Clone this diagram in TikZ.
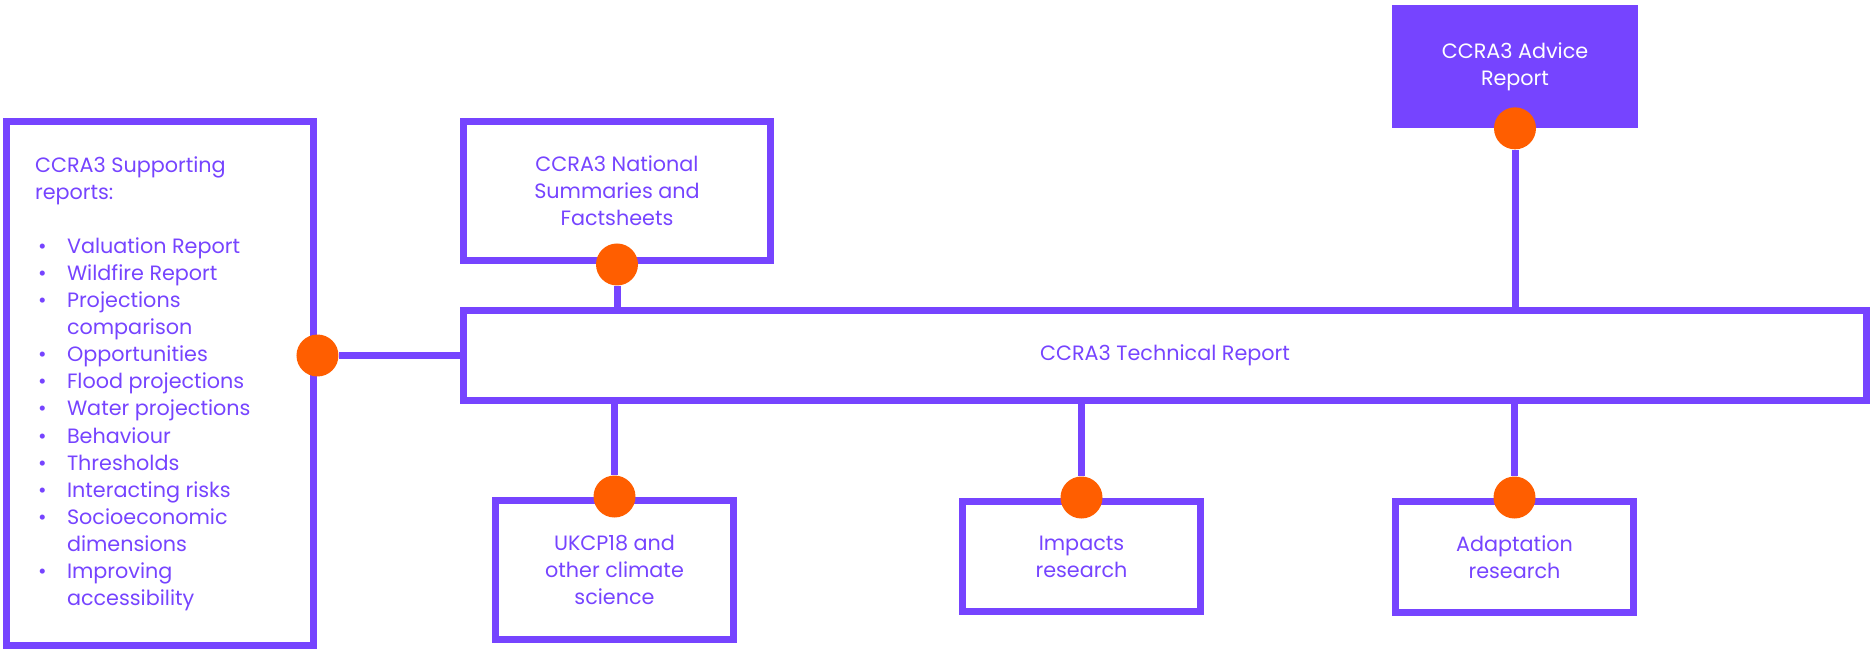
\documentclass[tikz,border=0pt]{standalone}
\usepackage{fontspec}
\setmainfont{Poppins}
\usepackage{array}
\definecolor{ccpurple}{RGB}{118,68,255}
\definecolor{ccorange}{RGB}{255,94,0}
\newcommand{\bul}{\hspace*{0.06cm}\textbullet}
\tikzset{
  box/.style={draw=ccpurple, line width=0.14cm, text=ccpurple, align=center,
    inner sep=0pt, font=\fontsize{11.8}{15.4}\selectfont},
  fillbox/.style={fill=ccpurple, text=white, align=center, inner sep=0pt,
    font=\fontsize{11.8}{15.4}\selectfont},
  dot/.style={circle, fill=ccorange, minimum size=0.84cm, inner sep=0pt},
  link/.style={draw=ccpurple, line width=0.14cm}
}
\begin{document}
\begin{tikzpicture}[x=0.02cm, y=-0.02cm]
\useasboundingbox (0,0) rectangle (1874,649);

% boxes
\node[box, minimum width=6.16cm, minimum height=10.5cm] at (160,383.5) (support) {%
\begin{tabular}{@{}p{0.64cm}@{}p{4.36cm}@{}}
\multicolumn{2}{@{}p{5cm}@{}}{CCRA3 Supporting}\\
\multicolumn{2}{@{}p{5cm}@{}}{reports:}\\
\\
\bul & Valuation Report\\
\bul & Wildfire Report\\
\bul & Projections\\
     & comparison\\
\bul & Opportunities\\
\bul & Flood projections\\
\bul & Water projections\\
\bul & Behaviour\\
\bul & Thresholds\\
\bul & Interacting risks\\
\bul & Socioeconomic\\
     & dimensions\\
\bul & Improving\\
     & accessibility
\end{tabular}};
\node[box, minimum width=6.16cm, minimum height=2.8cm] at (617,191) (national)
  {CCRA3 National\\Summaries and\\Factsheets};
\node[fillbox, minimum width=4.92cm, minimum height=2.46cm] at (1515,66.5) (advice)
  {CCRA3 Advice\\Report};
\node[box, minimum width=28.08cm, minimum height=1.82cm] at (1165,355.5) (tech)
  {CCRA3 Technical Report};
\node[box, minimum width=4.78cm, minimum height=2.8cm] at (614.5,570) (ukcp)
  {UKCP18 and\\other climate\\science};
\node[box, minimum width=4.78cm, minimum height=2.22cm] at (1081.5,556.5) (impacts)
  {Impacts\\research};
\node[box, minimum width=4.78cm, minimum height=2.24cm] at (1514.5,557) (adapt)
  {Adaptation\\research};

% dots
\node[dot] at (support.east |- tech.west) (dsup) {};
\node[dot] at (national.south) (dnat) {};
\node[dot] at (advice.south) (dadv) {};
\node[dot] at (ukcp.north) (dukcp) {};
\node[dot] at (impacts.north) (dimp) {};
\node[dot] at (adapt.north) (dada) {};

% links
\draw[link] (dsup) -- (tech.west);
\draw[link] (dnat) -- (dnat |- tech.north);
\draw[link] (dadv) -- (dadv |- tech.north);
\draw[link] (dukcp) -- (dukcp |- tech.south);
\draw[link] (dimp) -- (dimp |- tech.south);
\draw[link] (dada) -- (dada |- tech.south);

\end{tikzpicture}
\end{document}
